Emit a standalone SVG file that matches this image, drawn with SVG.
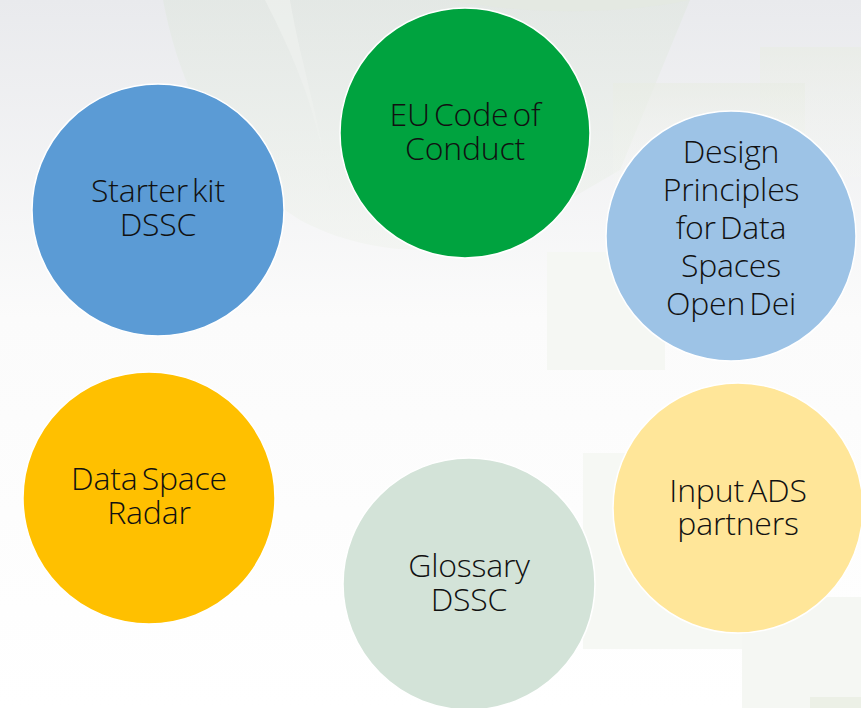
<svg xmlns="http://www.w3.org/2000/svg" width="861" height="708" viewBox="0 0 861 708">
  <defs>
    <linearGradient id="bg" x1="0" y1="0" x2="0" y2="1">
      <stop offset="0" stop-color="#e9eaed"/>
      <stop offset="0.45" stop-color="#fbfbfb"/>
      <stop offset="1" stop-color="#ffffff"/>
    </linearGradient>
    <linearGradient id="leaf" x1="0" y1="0" x2="0" y2="1">
      <stop offset="0" stop-color="#e0e7e0"/>
      <stop offset="1" stop-color="#f0f3ee"/>
    </linearGradient>
    <linearGradient id="rectg" x1="0" y1="0" x2="0" y2="1">
      <stop offset="0" stop-color="#e8ece3"/>
      <stop offset="1" stop-color="#f5f7f2" stop-opacity="0.3"/>
    </linearGradient>
  </defs>
  <style>
    .node circle { stroke: #ffffff; stroke-width: 1.5; }
    .lbl { font-family: "Open Sans", "Noto Sans", "DejaVu Sans", sans-serif; font-size: 32px; font-weight: 350; fill: #111111; text-anchor: middle; letter-spacing: -0.2px; word-spacing: -4px; }
  </style>
  <rect width="861" height="708" fill="url(#bg)"/>
  <g id="background">
    <path d="M163,0 C180,90 220,170 300,220 C360,252 430,258 500,240 L620,170 L690,0 Z" fill="url(#leaf)" opacity="0.6"/>
    <path d="M265,0 C290,50 315,100 330,190 C320,120 300,60 290,0 Z" fill="#eef1ee" opacity="0.7"/>
    <path d="M450,0 C520,15 620,15 690,0 Z" fill="#e3e9e1" opacity="0.8"/>
    <rect x="760" y="47" width="101" height="130" fill="url(#rectg)" opacity="0.6"/>
    <rect x="613" y="83" width="192" height="100" fill="url(#rectg)" opacity="0.6"/>
    <rect x="547" y="252" width="118" height="118" fill="#f5f7f3"/>
    <rect x="583" y="453" width="195" height="196" fill="#f6f8f4"/>
    <rect x="742" y="597" width="119" height="111" fill="#f5f7f3"/>
    <rect x="810" y="697" width="51" height="11" fill="#ecf0e6"/>
  </g>
  <g id="connectors"></g>
  <g id="node-starter" class="node">
    <circle cx="158" cy="210" r="126" fill="#5b9bd5"/>
    <text class="lbl" x="158" y="202">Starter kit</text>
    <text class="lbl" x="158" y="236">DSSC</text>
  </g>
  <g id="node-eucode" class="node">
    <circle cx="465" cy="133" r="125" fill="#00a33f"/>
    <text class="lbl" x="465" y="126">EU Code of</text>
    <text class="lbl" x="465" y="160">Conduct</text>
  </g>
  <g id="node-design" class="node">
    <circle cx="731" cy="236" r="125" fill="#9dc3e6"/>
    <text class="lbl" x="731" y="163">Design</text>
    <text class="lbl" x="731" y="201">Principles</text>
    <text class="lbl" x="731" y="239">for Data</text>
    <text class="lbl" x="731" y="277">Spaces</text>
    <text class="lbl" x="731" y="315">Open Dei</text>
  </g>
  <g id="node-radar" class="node">
    <circle cx="149" cy="498" r="126" fill="#ffc000"/>
    <text class="lbl" x="149" y="490">Data Space</text>
    <text class="lbl" x="149" y="524">Radar</text>
  </g>
  <g id="node-glossary" class="node">
    <circle cx="469" cy="584" r="126" fill="#d3e3d8"/>
    <text class="lbl" x="469" y="577">Glossary</text>
    <text class="lbl" x="469" y="611">DSSC</text>
  </g>
  <g id="node-input" class="node">
    <circle cx="738" cy="508" r="125" fill="#ffe699"/>
    <text class="lbl" x="738" y="502">Input ADS</text>
    <text class="lbl" x="738" y="535">partners</text>
  </g>
</svg>
